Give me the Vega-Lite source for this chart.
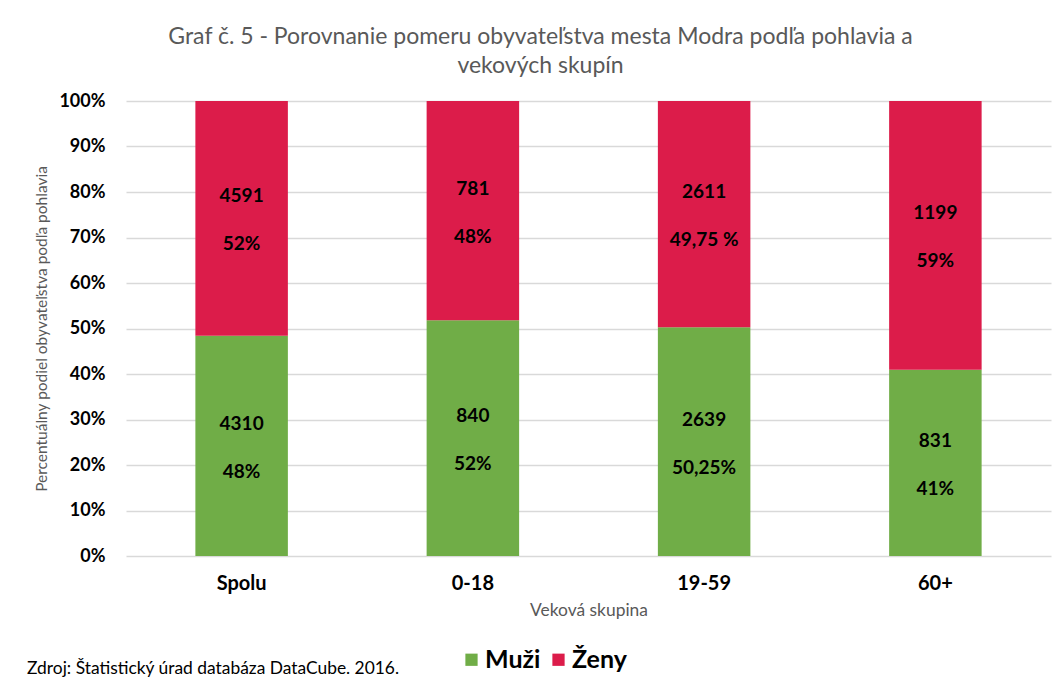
{
  "$schema": "https://vega.github.io/schema/vega-lite/v6.json",
  "autosize": {"type": "none"},
  "padding": {"left": 126, "top": 101, "right": 7, "bottom": 127},
  "width": 925,
  "height": 455,
  "background": "white",
  "config": {
    "font": "Lato",
    "view": {"stroke": null},
    "axis": {"gridColor": "#D9D9D9", "gridWidth": 1.5}
  },
  "title": {
    "text": ["Graf č. 5 - Porovnanie pomeru obyvateľstva mesta Modra podľa pohlavia a", "vekových skupín"],
    "font": "Lato",
    "fontSize": 23,
    "fontWeight": "normal",
    "color": "#595959",
    "anchor": "middle",
    "dx": -48,
    "offset": 14,
    "lineHeight": 29
  },
  "data": {
    "values": [
      {"group": "Spolu", "sex": "Muži", "count": 4310, "pct": "48%"},
      {"group": "Spolu", "sex": "Ženy", "count": 4591, "pct": "52%"},
      {"group": "0-18", "sex": "Muži", "count": 840, "pct": "52%"},
      {"group": "0-18", "sex": "Ženy", "count": 781, "pct": "48%"},
      {"group": "19-59", "sex": "Muži", "count": 2639, "pct": "50,25%"},
      {"group": "19-59", "sex": "Ženy", "count": 2611, "pct": "49,75 %"},
      {"group": "60+", "sex": "Muži", "count": 831, "pct": "41%"},
      {"group": "60+", "sex": "Ženy", "count": 1199, "pct": "59%"}
    ]
  },
  "encoding": {
    "x": {
      "field": "group",
      "type": "nominal",
      "sort": null,
      "scale": {"paddingInner": 0.6, "paddingOuter": 0.3},
      "axis": {
        "title": "Veková skupina",
        "titleFont": "Lato",
        "titleFontSize": 17.4,
        "titleFontWeight": "normal",
        "titleColor": "#595959",
        "titlePadding": 8,
        "labelAngle": 0,
        "labelFont": "Lato",
        "labelFontSize": 20,
        "labelFontWeight": "bold",
        "labelColor": "#000000",
        "labelPadding": 17,
        "ticks": false,
        "domain": false
      }
    }
  },
  "layer": [
    {
      "mark": {"type": "bar"},
      "encoding": {
        "y": {
          "field": "count",
          "type": "quantitative",
          "stack": "normalize",
          "scale": {"domain": [0, 1]},
          "axis": {
            "title": "Percentuálny podiel obyvateľstva podľa pohlavia",
            "titleFont": "Lato",
            "titleFontSize": 15.5,
            "titleFontWeight": "normal",
            "titleColor": "#595959",
            "titlePadding": 9,
            "format": ".0%",
            "values": [0, 0.1, 0.2, 0.3, 0.4, 0.5, 0.6, 0.7, 0.8, 0.9, 1],
            "labelFont": "Lato",
            "labelFontSize": 18,
            "labelFontWeight": "bold",
            "labelColor": "#000000",
            "labelPadding": 21,
            "ticks": false,
            "domain": false
          }
        },
        "color": {
          "field": "sex",
          "type": "nominal",
          "scale": {"domain": ["Muži", "Ženy"], "range": ["#70AD47", "#DC1C4A"]},
          "legend": {
            "orient": "none",
            "direction": "horizontal",
            "legendX": -99,
            "legendY": 546,
            "title": "Zdroj: Štatistický úrad databáza DataCube. 2016.",
            "titleOrient": "left",
            "titleLimit": 600,
            "titleFont": "Lato",
            "titleFontSize": 17.4,
            "titleFontWeight": "normal",
            "titleColor": "#000000",
            "titlePadding": 59,
            "titleBaseline": "top",
            "symbolType": "square",
            "symbolSize": 150,
            "symbolStrokeWidth": 0,
            "labelFont": "Lato",
            "labelFontSize": 25,
            "labelFontWeight": "bold",
            "labelColor": "#000000",
            "labelOffset": 1,
            "columnPadding": 5
          }
        },
        "order": {"field": "sex", "sort": "ascending"}
      }
    },
    {
      "transform": [
        {"stack": "count", "groupby": ["group"], "sort": [{"field": "sex", "order": "ascending"}], "as": ["y0", "y1"], "offset": "normalize"},
        {"fold": ["y0", "y1"], "as": ["edge", "pos"]},
        {"aggregate": [{"op": "mean", "field": "pos", "as": "mid"}], "groupby": ["group", "sex", "count", "pct"]}
      ],
      "encoding": {
        "y": {"field": "mid", "type": "quantitative"}
      },
      "layer": [
        {
          "mark": {"type": "text", "font": "Lato", "fontSize": 19, "fontWeight": "bold", "color": "#000000", "baseline": "middle", "dy": -22},
          "encoding": {"text": {"field": "count", "type": "quantitative", "format": "d"}}
        },
        {
          "mark": {"type": "text", "font": "Lato", "fontSize": 19, "fontWeight": "bold", "color": "#000000", "baseline": "middle", "dy": 26},
          "encoding": {"text": {"field": "pct", "type": "nominal"}}
        }
      ]
    }
  ]
}
